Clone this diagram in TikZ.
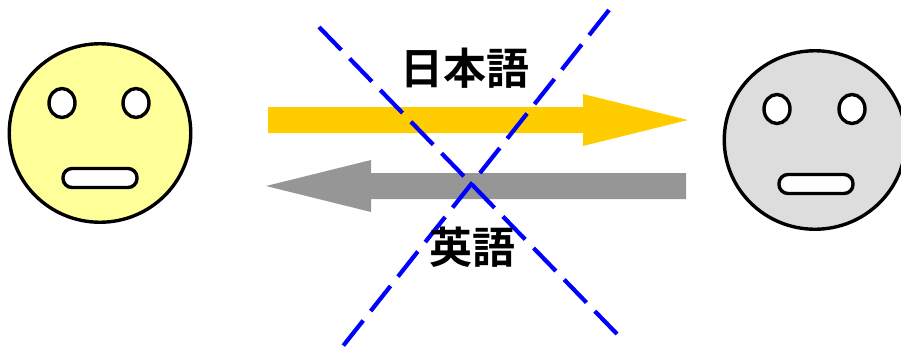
\documentclass[tikz,border=0pt]{standalone}
\usepackage{fontspec}
\newfontfamily\cjk{Noto Sans CJK JP Bold}
\usetikzlibrary{shapes.geometric}
\tikzset{
  head/.style={draw=black,line width=3.4pt,ellipse,minimum width=181.5pt,minimum height=178.5pt,inner sep=0pt},
  eye/.style={draw=black,line width=3.4pt,fill=white,ellipse,minimum width=26pt,minimum height=29pt,inner sep=0pt},
  mouth/.style={draw=black,line width=3.4pt,fill=white,rectangle,rounded corners=9pt,minimum width=74pt,minimum height=19pt,inner sep=0pt},
  cross/.style={draw=blue,line width=4.2pt,dash pattern=on 32pt off 12pt},
  word/.style={font=\cjk\fontsize{43}{43}\selectfont,inner sep=0pt}
}
\definecolor{paleyellow}{HTML}{FFFF99}
\definecolor{palegray}{HTML}{DDDDDD}
\definecolor{arrowyellow}{HTML}{FFCC00}
\definecolor{arrowgray}{HTML}{969696}
\begin{document}
\begin{tikzpicture}[x=1pt,y=-1pt]
      \useasboundingbox (0,0) rectangle (901,346);
      \clip (0,0) rectangle (901,346);
      \draw
        (100,133) node[head,fill=paleyellow] (lefthead){}
        (62,103) node[eye] (lefteye1){}
        (136,103) node[eye] (lefteye2){}
        (100,178) node[mouth] (leftmouth){};
      \draw
        (815,140) node[head,fill=palegray] (righthead){}
        (777,109) node[eye] (righteye1){}
        (852,109) node[eye] (righteye2){}
        (816,184) node[mouth] (rightmouth){};
      \fill[arrowyellow] (268,107) -- (583,107) -- (583,94) -- (688,120) -- (583,146) -- (583,133) -- (268,133) -- cycle;
      \fill[arrowgray] (686,173) -- (371,173) -- (371,160) -- (266,186) -- (371,212) -- (371,199) -- (686,199) -- cycle;
      \coordinate (cross1a) at (319,27);
      \coordinate (cross1b) at (617,334);
      \coordinate (cross2a) at (609,10);
      \coordinate (cross2b) at (343,346);
      \draw[cross] (cross1a) -- (cross1b);
      \draw[cross] (cross2a) -- (cross2b);
      \draw
        (465,68.5) node[word] (japanese){日本語}
        (472.5,247) node[word] (english){英語};
    \end{tikzpicture}
\end{document}
